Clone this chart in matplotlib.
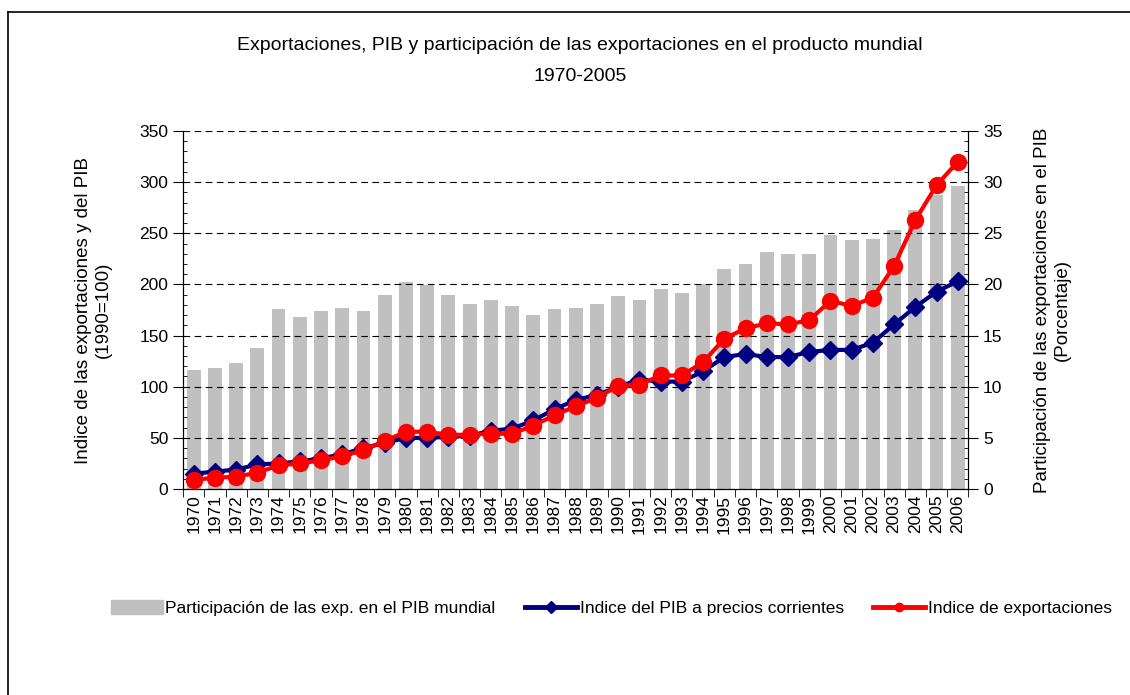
import matplotlib.pyplot as plt
from matplotlib.lines import Line2D
from matplotlib.ticker import MultipleLocator
import numpy as np

plt.rcParams['font.family'] = ['Liberation Sans', 'DejaVu Sans']

years = list(range(1970, 2007))

# participacion de las exportaciones en el PIB mundial (%)
participacion = [11.6, 11.8, 12.3, 13.8, 17.6, 16.8, 17.4, 17.7, 17.4, 19.0,
                 20.2, 19.9, 19.0, 18.1, 18.5, 17.9, 17.0, 17.6, 17.7, 18.1,
                 18.9, 18.5, 19.6, 19.2, 20.0, 21.5, 22.0, 23.2, 23.0, 23.0,
                 24.8, 24.3, 24.4, 25.3, 27.3, 28.7, 29.6]

# indice del PIB a precios corrientes (1990=100)
pib = [15, 17, 19, 24, 25, 27, 30, 34, 40, 45,
       50, 50, 51, 52, 57, 59, 67, 78, 87, 92,
       100, 107, 105, 105, 115, 129, 132, 129, 129, 134,
       136, 136, 143, 161, 178, 193, 203]

# indice de exportaciones (1990=100)
exportaciones = [9, 11, 12, 16, 23, 25, 28, 32, 38, 47,
                 56, 56, 53, 53, 54, 54, 62, 72, 81, 89,
                 101, 102, 111, 111, 124, 147, 157, 162, 161, 165,
                 184, 179, 187, 218, 263, 297, 320]

fig = plt.figure(figsize=(11.3, 6.95), dpi=100)
ax = fig.add_axes([0.162, 0.2964, 0.695, 0.5151])
ax2 = ax.twinx()

x = np.arange(len(years))

# bars on the right axis, drawn behind the lines
ax2.bar(x, participacion, width=0.65, color='#c0c0c0', zorder=1)
ax2.set_ylim(0, 35)
ax2.yaxis.set_major_locator(MultipleLocator(5))
ax2.yaxis.set_minor_locator(MultipleLocator(1))

ax.set_zorder(ax2.get_zorder() + 1)
ax.patch.set_visible(False)

ax.plot(x, pib, color='#000080', lw=3, marker='D', ms=9.5, zorder=3)
ax.plot(x, exportaciones, color='#ff0000', lw=3, marker='o', ms=11.5, zorder=4)

ax.set_ylim(0, 350)
ax.set_xlim(-0.5, len(years) - 0.5)
ax.yaxis.set_major_locator(MultipleLocator(50))
ax.yaxis.set_minor_locator(MultipleLocator(10))
ax.grid(axis='y', which='major', color='black', ls=(0, (6, 4)), lw=0.8)
ax.set_axisbelow(False)

ax.set_xticks(x)
ax.set_xticklabels([str(y) for y in years], rotation=90, fontsize=12.5)
ax.set_xticks(np.arange(-0.5, len(years)), minor=True)
ax.tick_params(axis='x', which='major', length=0, pad=4)
ax.tick_params(axis='x', which='minor', length=6, direction='out')
ax.tick_params(axis='y', which='major', length=7, direction='out', labelsize=12.5)
ax.tick_params(axis='y', which='minor', length=3, direction='in')
ax2.tick_params(axis='y', which='major', length=7, direction='out', labelsize=12.5)
ax2.tick_params(axis='y', which='minor', length=3, direction='in')

for a in (ax, ax2):
    a.spines['top'].set_visible(False)

ax.set_ylabel('Indice de las exportaciones y del PIB\n(1990=100)', fontsize=13.5, labelpad=20)
ax2.set_ylabel('Participación de las exportaciones en el PIB\n(Porcentaje)', fontsize=13.5,
               labelpad=23)

fig.text(0.513, 0.935, 'Exportaciones, PIB y participación de las exportaciones en el producto mundial',
         ha='center', va='center', fontsize=14)
fig.text(0.513, 0.89, '1970-2005', ha='center', va='center', fontsize=14)

handles = [
    plt.Rectangle((0, 0), 1, 1, color='#c0c0c0'),
    Line2D([], [], color='#000080', lw=3.5, marker='D', ms=6),
    Line2D([], [], color='#ff0000', lw=3.5, marker='o', ms=6),
]
labels = ['Participación de las exp. en el PIB mundial',
          'Indice del PIB a precios corrientes',
          'Indice de exportaciones']
fig.legend(handles, labels, loc='center', bbox_to_anchor=(0.541, 0.125), ncol=3,
           frameon=False, fontsize=12.5, handlelength=3.0, handleheight=0.9,
           handletextpad=0.15, columnspacing=1.7)

# frame lines on left and top like the original
fig.add_artist(Line2D([0.007, 0.007], [0.0, 0.983], color='black', lw=1.2))
fig.add_artist(Line2D([0.007, 1.0], [0.983, 0.983], color='black', lw=1.2))

fig.savefig('out.png', dpi=100)
